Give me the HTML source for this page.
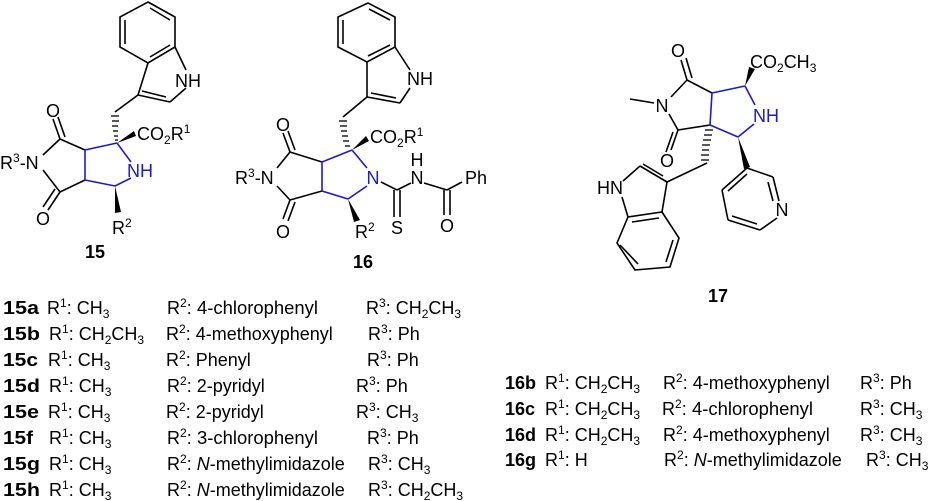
<!DOCTYPE html>
<html><head><meta charset="utf-8"><style>
html,body{margin:0;padding:0;background:#fff;}
svg{display:block;}
text{font-family:"Liberation Sans",Arial,sans-serif;font-size:18px;fill:#000;}
.b{font-weight:bold;}
.bl{fill:#1a1ad0;}
.k line,.k polyline{stroke:#000;stroke-width:1.6;fill:none;}
.u line,.u polyline{stroke:#1a1ad0;stroke-width:1.6;fill:none;}
.h line{stroke:#000;stroke-width:1.3;}
</style></head><body>
<svg width="929" height="501" viewBox="0 0 929 501" xmlns="http://www.w3.org/2000/svg">
<!-- ===== 15 ===== -->
<g class="k">
<polygon points="148,2 175,17 175,47 148,63 120,47 120,17" style="fill:none;stroke:#000;stroke-width:1.6"/>
<line x1="125" y1="20" x2="125" y2="44"/><line x1="150" y1="8" x2="170" y2="20"/><line x1="150" y1="57" x2="170" y2="45"/>
<line x1="175" y1="47" x2="186" y2="70"/><line x1="186" y1="88" x2="170" y2="102"/>
<line x1="170" y1="102" x2="138" y2="95"/><line x1="166" y1="97" x2="142" y2="91"/>
<line x1="138" y1="95" x2="148" y2="63"/><line x1="138" y1="95" x2="115" y2="112"/>
<line x1="85" y1="150" x2="60" y2="139"/><line x1="60" y1="139" x2="53" y2="119"/><line x1="65" y1="137" x2="58" y2="117"/>
<line x1="60" y1="139" x2="43" y2="155"/><line x1="43" y1="170" x2="60" y2="192"/>
<line x1="60" y1="192" x2="85" y2="180"/><line x1="60" y1="192" x2="48" y2="210"/><line x1="55" y1="189" x2="43" y2="207"/>
</g>
<g class="u"><polyline points="117,143 85,150 85,180 115,186"/><line x1="117" y1="143" x2="131" y2="162"/><line x1="131" y1="178" x2="115" y2="186"/></g>
<g class="h"><line x1="111" y1="116" x2="119" y2="116"/><line x1="112" y1="121" x2="119" y2="121"/><line x1="112" y1="126" x2="118" y2="126"/><line x1="113" y1="131" x2="118" y2="131"/><line x1="114" y1="136" x2="118" y2="136"/><line x1="115" y1="140" x2="118" y2="140"/></g>
<polygon points="117,143 134,131 136,136"/>
<polygon points="115,186 115,213 121,212"/>
<text x="188" y="87" text-anchor="middle">NH</text>
<text x="137" y="140">CO<tspan font-size="12" dy="4">2</tspan><tspan dy="-4">R</tspan><tspan font-size="12" dy="-7">1</tspan></text>
<text x="53" y="117" text-anchor="middle">O</text>
<text x="43" y="225" text-anchor="middle">O</text>
<text x="0" y="169">R<tspan font-size="12" dy="-7">3</tspan><tspan dy="7">-N</tspan></text>
<text x="140" y="177" text-anchor="middle" class="bl">NH</text>
<text x="112" y="234">R<tspan font-size="12" dy="-7">2</tspan></text>
<text x="85" y="258" class="b">15</text>

<!-- ===== 16 ===== -->
<g class="k">
<polygon points="368,3 395,17 395,47 367,62 338,47 338,17" style="fill:none;stroke:#000;stroke-width:1.6"/>
<line x1="343" y1="20" x2="343" y2="44"/><line x1="369" y1="9" x2="390" y2="20"/><line x1="368" y1="56" x2="390" y2="45"/>
<line x1="395" y1="47" x2="410" y2="70"/><line x1="410" y1="88" x2="400" y2="103"/>
<line x1="400" y1="103" x2="367" y2="97"/><line x1="396" y1="98" x2="371" y2="93"/>
<line x1="367" y1="97" x2="367" y2="62"/><line x1="367" y1="97" x2="343" y2="117"/>
<line x1="322" y1="162" x2="290" y2="152"/><line x1="290" y1="152" x2="283" y2="133"/><line x1="295" y1="150" x2="288" y2="131"/>
<line x1="290" y1="152" x2="277" y2="168"/><line x1="277" y1="186" x2="290" y2="200"/>
<line x1="290" y1="200" x2="322" y2="191"/><line x1="290" y1="200" x2="283" y2="219"/><line x1="295" y1="202" x2="288" y2="221"/>
<line x1="381" y1="182" x2="397" y2="190"/><line x1="397" y1="190" x2="411" y2="183"/>
<line x1="394" y1="190" x2="394" y2="217"/><line x1="400" y1="190" x2="400" y2="217"/>
<line x1="424" y1="183" x2="447" y2="190"/><line x1="447" y1="190" x2="462" y2="182"/>
<line x1="444" y1="190" x2="444" y2="215"/><line x1="450" y1="190" x2="450" y2="215"/>
</g>
<g class="u"><polyline points="352,150 322,162 322,191 348,199"/><line x1="352" y1="150" x2="367" y2="168"/><line x1="367" y1="186" x2="348" y2="199"/></g>
<g class="h"><line x1="339" y1="121" x2="347" y2="121"/><line x1="340" y1="126" x2="347" y2="126"/><line x1="341" y1="131" x2="347" y2="131"/><line x1="342" y1="136" x2="348" y2="136"/><line x1="343" y1="141" x2="349" y2="141"/><line x1="345" y1="146" x2="350" y2="146"/></g>
<polygon points="352,150 366,136 369,141"/>
<polygon points="348,199 354,222 360,220"/>
<text x="420" y="85" text-anchor="middle">NH</text>
<text x="370" y="143">CO<tspan font-size="12" dy="4">2</tspan><tspan dy="-4">R</tspan><tspan font-size="12" dy="-7">1</tspan></text>
<text x="283" y="131" text-anchor="middle">O</text>
<text x="283" y="238" text-anchor="middle">O</text>
<text x="235" y="184">R<tspan font-size="12" dy="-7">3</tspan><tspan dy="7">-N</tspan></text>
<text x="373" y="184" text-anchor="middle" class="bl">N</text>
<text x="355" y="238">R<tspan font-size="12" dy="-7">2</tspan></text>
<text x="397" y="234" text-anchor="middle">S</text>
<text x="417" y="184" text-anchor="middle">N</text>
<text x="417" y="166" text-anchor="middle">H</text>
<text x="465" y="184">Ph</text>
<text x="447" y="232" text-anchor="middle">O</text>
<text x="353" y="268" class="b">16</text>

<!-- ===== 17 ===== -->
<g class="k">
<line x1="712" y1="93" x2="687" y2="80"/><line x1="687" y1="80" x2="681" y2="60"/><line x1="692" y1="78" x2="686" y2="58"/>
<line x1="687" y1="80" x2="671" y2="97"/><line x1="630" y1="99" x2="654" y2="103"/>
<line x1="669" y1="114" x2="678" y2="130"/><line x1="678" y1="130" x2="710" y2="125"/>
<line x1="678" y1="130" x2="671" y2="150"/><line x1="673" y1="132" x2="666" y2="152"/>
<line x1="707" y1="163" x2="667" y2="182"/>
<line x1="667" y1="182" x2="640" y2="166"/><line x1="663" y1="176" x2="643" y2="164"/>
<line x1="640" y1="166" x2="623" y2="181"/><line x1="622" y1="197" x2="628" y2="217"/>
<line x1="667" y1="182" x2="662" y2="212"/>
<polygon points="662,212 679,238 670,267 635,270 617,243 628,217" style="fill:none;stroke:#000;stroke-width:1.6"/>
<line x1="632" y1="222" x2="659" y2="218"/><line x1="673" y1="240" x2="666" y2="262"/><line x1="638" y1="264" x2="620" y2="245"/>
<line x1="747" y1="168" x2="773" y2="177"/><line x1="773" y1="177" x2="779" y2="201"/><line x1="768" y1="182" x2="773" y2="201"/>
<line x1="777" y1="218" x2="760" y2="230"/><line x1="760" y1="230" x2="728" y2="220"/><line x1="757" y1="224" x2="732" y2="216"/>
<line x1="728" y1="220" x2="722" y2="190"/><line x1="722" y1="190" x2="747" y2="168"/><line x1="728" y1="191" x2="747" y2="174"/>
</g>
<g class="u"><polyline points="745,86 712,93 710,125 738,137"/><line x1="745" y1="86" x2="755" y2="105"/><line x1="754" y1="124" x2="738" y2="137"/></g>
<g class="h"><line x1="705" y1="130" x2="713" y2="130"/><line x1="704" y1="135" x2="712" y2="135"/><line x1="703" y1="140" x2="711" y2="140"/><line x1="702" y1="145" x2="710" y2="145"/><line x1="702" y1="150" x2="709" y2="150"/><line x1="701" y1="155" x2="709" y2="155"/><line x1="701" y1="160" x2="709" y2="160"/></g>
<polygon points="745,86 749,67 755,69"/>
<polygon points="738,137 744,169 750,167"/>
<text x="678" y="57" text-anchor="middle">O</text>
<text x="667" y="167" text-anchor="middle">O</text>
<text x="662" y="112" text-anchor="middle">N</text>
<text x="750" y="68">CO<tspan font-size="12" dy="4">2</tspan><tspan dy="-4">CH</tspan><tspan font-size="12" dy="4">3</tspan></text>
<text x="766" y="122" text-anchor="middle" class="bl">NH</text>
<text x="610" y="194" text-anchor="middle">HN</text>
<text x="782" y="216" text-anchor="middle">N</text>
<text x="708" y="302" class="b">17</text>

<!-- ===== table 15 ===== -->
<g>
<text x="3" y="314" class="b" textLength="36" lengthAdjust="spacingAndGlyphs">15a</text><text x="47" y="314">R<tspan font-size="12" dy="-7">1</tspan><tspan dy="7">: CH</tspan><tspan font-size="12" dy="4">3</tspan></text><text x="167" y="314">R<tspan font-size="12" dy="-7">2</tspan><tspan dy="7">:</tspan></text><text x="197" y="314" textLength="121" lengthAdjust="spacingAndGlyphs">4-chlorophenyl</text><text x="366" y="314">R<tspan font-size="12" dy="-7">3</tspan><tspan dy="7">: CH</tspan><tspan font-size="12" dy="4">2</tspan><tspan dy="-4">CH</tspan><tspan font-size="12" dy="4">3</tspan></text>
<text x="3" y="340" class="b" textLength="37" lengthAdjust="spacingAndGlyphs">15b</text><text x="49" y="340">R<tspan font-size="12" dy="-7">1</tspan><tspan dy="7">: CH</tspan><tspan font-size="12" dy="4">2</tspan><tspan dy="-4">CH</tspan><tspan font-size="12" dy="4">3</tspan></text><text x="166" y="340">R<tspan font-size="12" dy="-7">2</tspan><tspan dy="7">: 4-methoxyphenyl</tspan></text><text x="368" y="340">R<tspan font-size="12" dy="-7">3</tspan><tspan dy="7">: Ph</tspan></text>
<text x="3" y="366" class="b" textLength="35" lengthAdjust="spacingAndGlyphs">15c</text><text x="48" y="366">R<tspan font-size="12" dy="-7">1</tspan><tspan dy="7">: CH</tspan><tspan font-size="12" dy="4">3</tspan></text><text x="166" y="366">R<tspan font-size="12" dy="-7">2</tspan><tspan dy="7">: Phenyl</tspan></text><text x="367" y="366">R<tspan font-size="12" dy="-7">3</tspan><tspan dy="7">: Ph</tspan></text>
<text x="3" y="392" class="b" textLength="37" lengthAdjust="spacingAndGlyphs">15d</text><text x="49" y="392">R<tspan font-size="12" dy="-7">1</tspan><tspan dy="7">: CH</tspan><tspan font-size="12" dy="4">3</tspan></text><text x="167" y="392">R<tspan font-size="12" dy="-7">2</tspan><tspan dy="7">: 2-pyridyl</tspan></text><text x="356" y="392">R<tspan font-size="12" dy="-7">3</tspan><tspan dy="7">: Ph</tspan></text>
<text x="3" y="418" class="b" textLength="36" lengthAdjust="spacingAndGlyphs">15e</text><text x="48" y="418">R<tspan font-size="12" dy="-7">1</tspan><tspan dy="7">: CH</tspan><tspan font-size="12" dy="4">3</tspan></text><text x="166" y="418">R<tspan font-size="12" dy="-7">2</tspan><tspan dy="7">: 2-pyridyl</tspan></text><text x="356" y="418">R<tspan font-size="12" dy="-7">3</tspan><tspan dy="7">: CH</tspan><tspan font-size="12" dy="4">3</tspan></text>
<text x="3" y="444" class="b" textLength="30" lengthAdjust="spacingAndGlyphs">15f</text><text x="49" y="444">R<tspan font-size="12" dy="-7">1</tspan><tspan dy="7">: CH</tspan><tspan font-size="12" dy="4">3</tspan></text><text x="167" y="444">R<tspan font-size="12" dy="-7">2</tspan><tspan dy="7">:</tspan></text><text x="197" y="444" textLength="121" lengthAdjust="spacingAndGlyphs">3-chlorophenyl</text><text x="367" y="444">R<tspan font-size="12" dy="-7">3</tspan><tspan dy="7">: Ph</tspan></text>
<text x="3" y="470" class="b" textLength="37" lengthAdjust="spacingAndGlyphs">15g</text><text x="49" y="470">R<tspan font-size="12" dy="-7">1</tspan><tspan dy="7">: CH</tspan><tspan font-size="12" dy="4">3</tspan></text><text x="167" y="470">R<tspan font-size="12" dy="-7">2</tspan><tspan dy="7">: </tspan><tspan font-style="italic">N</tspan>-methylimidazole</text><text x="368" y="470">R<tspan font-size="12" dy="-7">3</tspan><tspan dy="7">: CH</tspan><tspan font-size="12" dy="4">3</tspan></text>
<text x="3" y="496" class="b" textLength="37" lengthAdjust="spacingAndGlyphs">15h</text><text x="49" y="496">R<tspan font-size="12" dy="-7">1</tspan><tspan dy="7">: CH</tspan><tspan font-size="12" dy="4">3</tspan></text><text x="167" y="496">R<tspan font-size="12" dy="-7">2</tspan><tspan dy="7">: </tspan><tspan font-style="italic">N</tspan>-methylimidazole</text><text x="368" y="496">R<tspan font-size="12" dy="-7">3</tspan><tspan dy="7">: CH</tspan><tspan font-size="12" dy="4">2</tspan><tspan dy="-4">CH</tspan><tspan font-size="12" dy="4">3</tspan></text>
</g>
<!-- ===== table 16 ===== -->
<g>
<text x="505" y="389" class="b">16b</text><text x="545" y="389">R<tspan font-size="12" dy="-7">1</tspan><tspan dy="7">: CH</tspan><tspan font-size="12" dy="4">2</tspan><tspan dy="-4">CH</tspan><tspan font-size="12" dy="4">3</tspan></text><text x="663" y="389">R<tspan font-size="12" dy="-7">2</tspan><tspan dy="7">: 4-methoxyphenyl</tspan></text><text x="860" y="389">R<tspan font-size="12" dy="-7">3</tspan><tspan dy="7">: Ph</tspan></text>
<text x="505" y="415" class="b">16c</text><text x="545" y="415">R<tspan font-size="12" dy="-7">1</tspan><tspan dy="7">: CH</tspan><tspan font-size="12" dy="4">2</tspan><tspan dy="-4">CH</tspan><tspan font-size="12" dy="4">3</tspan></text><text x="662" y="415">R<tspan font-size="12" dy="-7">2</tspan><tspan dy="7">:</tspan></text><text x="692" y="415" textLength="121" lengthAdjust="spacingAndGlyphs">4-chlorophenyl</text><text x="860" y="415">R<tspan font-size="12" dy="-7">3</tspan><tspan dy="7">: CH</tspan><tspan font-size="12" dy="4">3</tspan></text>
<text x="505" y="441" class="b">16d</text><text x="545" y="441">R<tspan font-size="12" dy="-7">1</tspan><tspan dy="7">: CH</tspan><tspan font-size="12" dy="4">2</tspan><tspan dy="-4">CH</tspan><tspan font-size="12" dy="4">3</tspan></text><text x="663" y="441">R<tspan font-size="12" dy="-7">2</tspan><tspan dy="7">: 4-methoxyphenyl</tspan></text><text x="860" y="441">R<tspan font-size="12" dy="-7">3</tspan><tspan dy="7">: CH</tspan><tspan font-size="12" dy="4">3</tspan></text>
<text x="505" y="466" class="b">16g</text><text x="545" y="466">R<tspan font-size="12" dy="-7">1</tspan><tspan dy="7">: H</tspan></text><text x="664" y="466">R<tspan font-size="12" dy="-7">2</tspan><tspan dy="7">: </tspan><tspan font-style="italic">N</tspan>-methylimidazole</text><text x="866" y="466">R<tspan font-size="12" dy="-7">3</tspan><tspan dy="7">: CH</tspan><tspan font-size="12" dy="4">3</tspan></text>
</g>
</svg>
</body></html>
